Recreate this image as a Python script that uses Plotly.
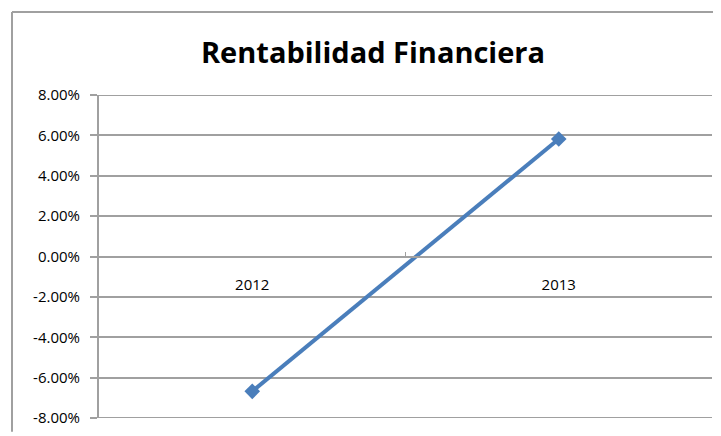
import plotly.graph_objects as go

# Rentabilidad financiera por año
years = ["2012", "2013"]
rentabilidad = [-0.0668, 0.0582]

y_ticks = [-0.08, -0.06, -0.04, -0.02, 0.0, 0.02, 0.04, 0.06, 0.08]
y_labels = ["-8.00%", "-6.00%", "-4.00%", "-2.00%", "0.00%",
            "2.00%", "4.00%", "6.00%", "8.00%"]

# page body has an 8px margin, so the figure is shifted by that much
OFF = 8
W, H = 721 - OFF, 436 - OFF
L, R, T, B = 99 - OFF, 9, 95 - OFF, 14
pw, ph = W - L - R, H - T - B
GRID = "#A0A0A0"


def px_x(p):
    return (p - OFF - L) / pw


def px_y(p):
    return (H - B - (p - OFF)) / ph


fig = go.Figure()
fig.add_trace(go.Scatter(
    x=list(range(len(years))), y=rentabilidad,
    mode="lines+markers",
    line=dict(color="#4A7EBB", width=4),
    marker=dict(symbol="diamond", size=12, color="#4A7EBB"),
    hoverinfo="y",
))

# plotly drops the gridlines at the range edges, so draw those two by hand
edge_grid = [
    dict(type="line", xref="paper", yref="y", layer="below",
         x0=0, x1=1, y0=v, y1=v, line=dict(color=GRID, width=2))
    for v in (y_ticks[0], y_ticks[-1])
]

fig.update_layout(
    width=W, height=H,
    margin=dict(l=L, r=R, t=T, b=B),
    paper_bgcolor="white", plot_bgcolor="white",
    showlegend=False,
    title=dict(
        text="<b>Rentabilidad Financiera</b>",
        x=(373 - OFF) / W, xanchor="center",
        y=1 - (53 - OFF) / H, yanchor="middle",
        font=dict(family="Open Sans", size=29, color="black"),
    ),
    font=dict(family="Open Sans", size=15, color="black"),
    xaxis=dict(
        range=[-0.5, 1.5],
        tickvals=list(range(len(years))), ticktext=years,
        ticks="", showgrid=False, zeroline=False,
        showline=True, linecolor=GRID, linewidth=2,
        anchor="free", position=0.5,
        ticklabelstandoff=14,
        minor=dict(tickvals=[0.5], ticks="inside", ticklen=4, tickcolor=GRID),
        fixedrange=True,
    ),
    yaxis=dict(
        range=[y_ticks[0], y_ticks[-1]],
        tickvals=y_ticks, ticktext=y_labels,
        ticks="outside", ticklen=7, tickcolor=GRID, tickwidth=2,
        ticklabelstandoff=7,
        showgrid=True, gridcolor=GRID, gridwidth=2,
        zeroline=False,
        showline=True, linecolor=GRID, linewidth=2,
        fixedrange=True,
    ),
    shapes=edge_grid + [
        dict(type="line", xref="paper", yref="paper",
             x0=px_x(12), x1=px_x(12), y0=px_y(436), y1=px_y(11),
             line=dict(color=GRID, width=2)),
        dict(type="line", xref="paper", yref="paper",
             x0=px_x(12), x1=px_x(721), y0=px_y(11), y1=px_y(11),
             line=dict(color=GRID, width=2)),
    ],
)

fig.write_html("out.html")
